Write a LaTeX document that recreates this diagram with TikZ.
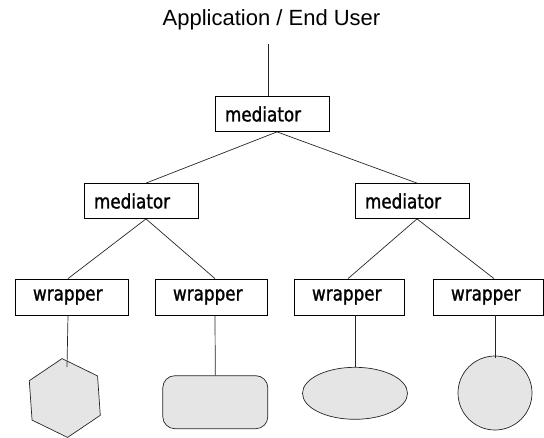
\documentclass[tikz,border=0pt]{standalone}
\usepackage{fontspec}
\newfontfamily\titlefont{Liberation Sans}
\newfontfamily\boxfont{DejaVu Sans}[FakeStretch=0.84, FakeBold=1.2]
\usetikzlibrary{shapes.geometric}
\begin{document}
\begin{tikzpicture}[x=1pt,y=-1pt,
  conn/.style={draw=black!85, line width=0.7pt},
  boxstyle/.style={draw=black, line width=0.8pt, rectangle, fill=white,
    font=\boxfont\fontsize{20}{22}\selectfont, align=left, inner ysep=0pt},
  medbox/.style={boxstyle, minimum height=35pt, text width=94pt, inner xsep=10pt},
  wrapbox/.style={boxstyle, minimum height=36pt, text width=#1, inner xsep=18pt},
  shapefill/.style={draw=black!85, line width=0.7pt, fill=gray!20, inner sep=0pt}
]
\useasboundingbox (0,0) rectangle (544,437);
% title
\node[font=\titlefont\fontsize{22}{24}\selectfont, anchor=base] (title) at (271.5,25) {Application / End User};
\coordinate (topend) at (268,44);
% mediators
\node[medbox] (m0) at (272,114) {mediator};
\node[medbox] (m1) at (141,201) {mediator};
\node[medbox] (m2) at (412,201) {mediator};
% wrappers
\node[wrapbox=77pt] (w1) at (71.5,297) {wrapper};
\node[wrapbox=76pt] (w2) at (211,297) {wrapper};
\node[wrapbox=74pt] (w3) at (349,297) {wrapper};
\node[wrapbox=74pt] (w4) at (488,297) {wrapper};
% sources
\node[shapefill, regular polygon, regular polygon sides=6, minimum size=79pt, rotate=34] (s1) at (64.8,398) {};
\node[shapefill, rectangle, rounded corners=12pt, minimum width=105pt, minimum height=53pt] (s2) at (215.3,402.2) {};
\node[shapefill, ellipse, minimum width=105pt, minimum height=52pt] (s3) at (355,393.3) {};
\node[shapefill, circle, minimum size=74pt] (s4) at (495,393) {};
\coordinate (s1in) at (67,367);
\coordinate (s4in) at (495,358);
% connectors
\draw[conn] (topend) -- (topend |- m0.north);
\draw[conn] ([xshift=5pt]m0.south) -- ([xshift=5pt]m1.north);
\draw[conn] ([xshift=5pt]m0.south) -- ([xshift=5pt]m2.north);
\draw[conn] ([xshift=5pt]m1.south) -- ([xshift=-3.5pt]w1.north);
\draw[conn] ([xshift=5pt]m1.south) -- ([xshift=4pt]w2.north);
\draw[conn] ([xshift=5pt]m2.south) -- ([xshift=-1pt]w3.north);
\draw[conn] ([xshift=5pt]m2.south) -- ([xshift=6pt]w4.north);
\draw[conn] ([xshift=-3.5pt]w1.south) -- (s1in);
\draw[conn] ([xshift=4pt]w2.south) -- (s2.north);
\draw[conn] ([xshift=6pt]w3.south) -- (s3.north);
\draw[conn] ([xshift=7pt]w4.south) -- (s4in);
\end{tikzpicture}
\end{document}
